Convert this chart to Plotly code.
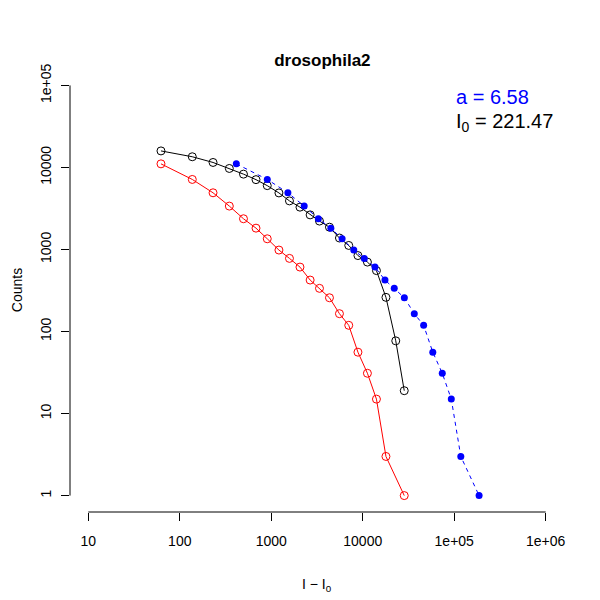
import plotly.graph_objects as go

# ---- data ----
black_x = [62.3, 137, 231, 348, 497, 681, 904, 1213, 1581, 2060, 2661, 3365, 4327,
           5564, 7030, 8862, 11250, 14120, 17930, 22950, 28420]
black_y = [15900, 13500, 11500, 9720, 8290, 7100, 6000, 4890, 3910, 3280, 2640, 2220,
           1870, 1380, 1120, 843, 702, 553, 261, 77, 19]

red_x = [62.3, 137, 231, 348, 497, 681, 904, 1213, 1581, 2060, 2661, 3365, 4327,
         5564, 7030, 8862, 11250, 14120, 17930, 28420]
red_y = [11060, 7140, 4910, 3380, 2370, 1820, 1350, 984, 779, 610, 424, 336, 258,
         165, 119, 56, 31, 15, 3, 1]

blue_x = [415, 905, 1520, 2290, 3270, 4480, 5950, 7980, 10400, 13600, 17500, 22100,
          28500, 36600, 46300, 58300, 74000, 92900, 118000, 187000]
blue_y = [11060, 7140, 4910, 3380, 2370, 1820, 1350, 984, 779, 610, 424, 336, 258,
          165, 119, 56, 31, 15, 3, 1]

x_tickvals = [10, 100, 1000, 10000, 100000, 1000000]
x_ticktext = ["10", "100", "1000", "10000", "1e+05", "1e+06"]
y_tickvals = [1, 10, 100, 1000, 10000, 100000]
y_ticktext = ["1", "10", "100", "1000", "10000", "1e+05"]

title_text = "drosophila2"
a_text = "a = 6.58"
i0_text = "I<sub>0</sub> = 221.47"
x_title = "I \u2212 I<sub>0</sub>"
y_title = "Counts"

FONT = "Liberation Sans, Arial, Helvetica, sans-serif"

fig = go.Figure()
fig.add_trace(go.Scatter(x=black_x, y=black_y, mode="lines+markers",
                         line=dict(color="black", width=1),
                         marker=dict(symbol="circle-open", size=8, color="black",
                                     line=dict(width=1, color="black")),
                         showlegend=False))
fig.add_trace(go.Scatter(x=red_x, y=red_y, mode="lines+markers",
                         line=dict(color="red", width=1),
                         marker=dict(symbol="circle-open", size=8, color="red",
                                     line=dict(width=1, color="red")),
                         showlegend=False))
fig.add_trace(go.Scatter(x=blue_x, y=blue_y, mode="lines+markers",
                         line=dict(color="blue", width=1, dash="4px,4px"),
                         marker=dict(symbol="circle", size=7, color="blue"),
                         showlegend=False))

fig.update_layout(
    width=600, height=600,
    margin=dict(l=62, r=44, t=61, b=96, pad=0),
    paper_bgcolor="white", plot_bgcolor="white",
    font=dict(family=FONT, size=14, color="black"),
    title=dict(text="<b>" + title_text + "</b>", x=0.524, xanchor="center",
               y=0.913, yanchor="middle", yref="container",
               font=dict(size=17, family=FONT, color="black")),
    xaxis=dict(type="log", range=[0.8, 6.2], showgrid=False, zeroline=False,
               showline=False, ticks="outside", ticklen=8, tickcolor="black",
               tickwidth=1, tickvals=x_tickvals, ticktext=x_ticktext,
               ticklabelstandoff=8,
               tickfont=dict(size=14, family=FONT, color="black")),
    yaxis=dict(type="log", range=[-0.2, 5.2], showgrid=False, zeroline=False,
               showline=False, ticks="outside", ticklen=8, tickcolor="black",
               tickwidth=1, tickvals=y_tickvals, ticktext=y_ticktext,
               tickangle=-90, ticklabelstandoff=4,
               tickfont=dict(size=14, family=FONT, color="black")),
    shapes=[
        dict(type="line", xref="x", yref="paper", x0=10, x1=1000000, y0=0, y1=0,
             line=dict(color="black", width=1)),
        dict(type="line", xref="paper", yref="y", x0=0, x1=0, y0=1, y1=100000,
             line=dict(color="black", width=1)),
    ],
    annotations=[
        dict(text=a_text, xref="paper", yref="paper", x=0.777, y=0.936,
             xanchor="left", yanchor="middle", showarrow=False,
             font=dict(size=20, color="blue", family=FONT)),
        dict(text=i0_text, xref="paper", yref="paper", x=0.777, y=0.88,
             xanchor="left", yanchor="middle", showarrow=False,
             font=dict(size=20, color="black", family=FONT)),
        dict(text=x_title, xref="paper", yref="paper",
             x=0.5, y=-0.165, xanchor="center", yanchor="middle", showarrow=False,
             font=dict(size=14, color="black", family=FONT)),
        dict(text=y_title, xref="paper", yref="paper", x=-0.108, y=0.5,
             xanchor="center", yanchor="middle", textangle=-90, showarrow=False,
             font=dict(size=14, color="black", family=FONT)),
    ],
)

fig.write_html("out.html")
